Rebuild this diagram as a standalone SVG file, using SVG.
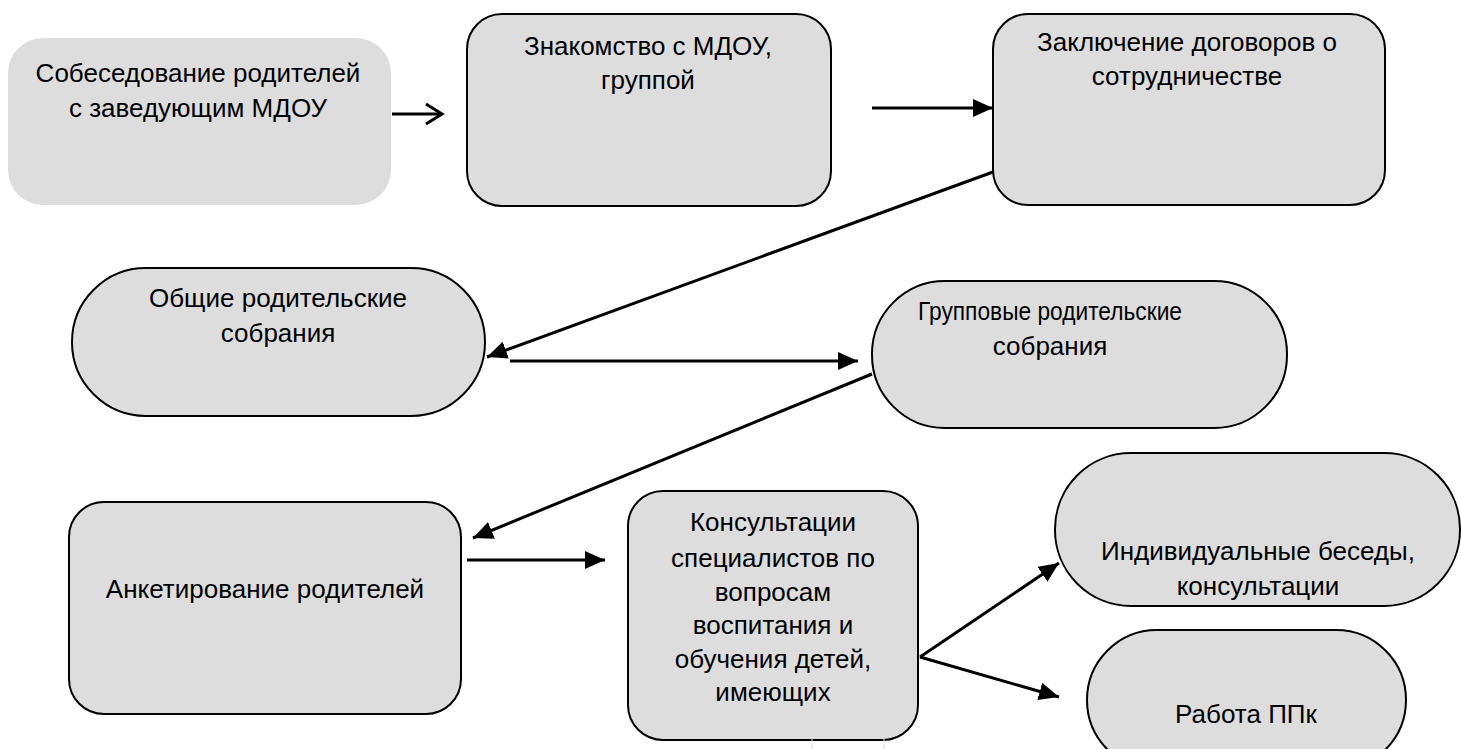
<svg xmlns="http://www.w3.org/2000/svg" width="1461" height="749" viewBox="0 0 1461 749">
<defs>
<style>
.box{fill:#dddddd;stroke:#000;stroke-width:2}
.plain{fill:#dddddd;stroke:none}
.t{font-family:"Liberation Sans",Arial,sans-serif;font-size:26px;fill:#000;text-anchor:middle}
.c{fill:none;stroke:#000;stroke-width:3}
</style>
<marker id="ah" markerUnits="userSpaceOnUse" markerWidth="22" markerHeight="18" refX="20" refY="9" orient="auto">
<path d="M0,0 L20,9 L0,18 Z" fill="#000"/>
</marker>
<marker id="oh" markerUnits="userSpaceOnUse" markerWidth="22" markerHeight="26" refX="19" refY="13" orient="auto">
<path d="M3,3 L19,13 L3,23" fill="none" stroke="#000" stroke-width="3"/>
</marker>
</defs>
<rect width="1461" height="749" fill="#fff"/>
<g id="connectors">
<line class="c" x1="392" y1="114" x2="442" y2="114" marker-end="url(#oh)"/>
<line class="c" x1="872" y1="108" x2="993" y2="108" marker-end="url(#ah)"/>
<line class="c" x1="993" y1="172" x2="487" y2="357" marker-end="url(#ah)"/>
<line class="c" x1="510" y1="361" x2="858" y2="361" marker-end="url(#ah)"/>
<line class="c" x1="872" y1="374" x2="473" y2="538" marker-end="url(#ah)"/>
<line class="c" x1="467" y1="560" x2="605" y2="560" marker-end="url(#ah)"/>
<line class="c" x1="920" y1="657" x2="1059" y2="563" marker-end="url(#ah)"/>
<line class="c" x1="920" y1="657" x2="1059" y2="697" marker-end="url(#ah)"/>
</g>
<g id="n1">
<rect class="plain" x="8" y="38" width="383" height="167" rx="35"/>
<text class="t" x="198" y="82">Собеседование родителей</text>
<text class="t" x="198" y="117">с заведующим МДОУ</text>
</g>
<g id="n2">
<rect class="box" x="467" y="14" width="364" height="192" rx="35"/>
<text class="t" x="648" y="55">Знакомство с МДОУ,</text>
<text class="t" x="648" y="89">группой</text>
</g>
<g id="n3">
<rect class="box" x="993" y="14" width="392" height="191" rx="35"/>
<text class="t" x="1187" y="51">Заключение договоров о</text>
<text class="t" x="1187" y="85">сотрудничестве</text>
</g>
<g id="n4">
<rect class="box" x="72" y="268" width="413" height="148" rx="74"/>
<text class="t" x="278" y="307">Общие родительские</text>
<text class="t" x="278" y="342">собрания</text>
</g>
<g id="n5">
<rect class="box" x="872" y="281" width="415" height="147" rx="73"/>
<text class="t" x="1050" y="320" textLength="264" lengthAdjust="spacingAndGlyphs">Групповые родительские</text>
<text class="t" x="1050" y="355">собрания</text>
</g>
<g id="n6">
<rect class="box" x="69" y="502" width="392" height="212" rx="35"/>
<text class="t" x="265" y="598">Анкетирование родителей</text>
</g>
<g id="n7">
<rect class="box" x="628" y="491" width="290" height="249" rx="35"/>
<text class="t" x="773" y="531">Консультации</text>
<text class="t" x="773" y="567">специалистов по</text>
<text class="t" x="773" y="601">вопросам</text>
<text class="t" x="773" y="634">воспитания и</text>
<text class="t" x="773" y="668">обучения детей,</text>
<text class="t" x="773" y="701">имеющих</text>
</g>
<g id="n8">
<rect class="box" x="1055" y="453" width="405" height="153" rx="76"/>
<text class="t" x="1258" y="560">Индивидуальные беседы,</text>
<text class="t" x="1258" y="595">консультации</text>
</g>
<g id="n9">
<rect class="box" x="1087" y="630" width="319" height="140" rx="70"/>
<text class="t" x="1246" y="723">Работа ППк</text>
</g>
<rect x="812" y="735" width="72" height="20" fill="none" stroke="#e0e0e0" stroke-width="1"/>
</svg>
